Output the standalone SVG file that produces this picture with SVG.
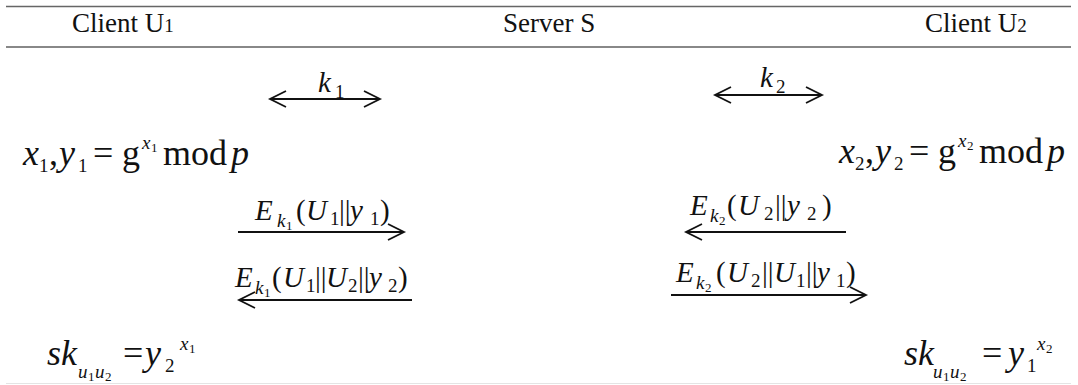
<svg xmlns="http://www.w3.org/2000/svg" width="1078" height="385" viewBox="0 0 1078 385" font-family="Liberation Serif, serif" fill="#111">
<style>
.conn path{stroke:#111;stroke-width:1.8;fill:none}
</style>
<rect width="1078" height="385" fill="#fff"/>
<g id="header" font-size="27">
<line x1="6" y1="6.5" x2="1071" y2="6.5" stroke="#666" stroke-width="1.6"/>
<line x1="6" y1="47" x2="1071" y2="47" stroke="#888" stroke-width="1.8"/>
<line x1="6" y1="383.5" x2="1071" y2="383.5" stroke="#e4e4e4" stroke-width="1"/>
<text x="72" y="32">Client U<tspan font-size="19">1</tspan></text>
<text x="503" y="32">Server S</text>
<text x="925" y="32">Client U<tspan font-size="19">2</tspan></text>
</g>
<g id="key1">
<text x="318" y="92" font-size="29" font-style="italic">k</text><text x="335" y="98" font-size="19">1</text>
</g>
<g id="key2">
<text x="760" y="87" font-size="29" font-style="italic">k</text><text x="776" y="93" font-size="19">2</text>
</g>
<g id="u1-gen" font-size="36">
<text><tspan font-style="italic" x="23" y="165">x</tspan><tspan font-size="19" x="39" y="172">1</tspan><tspan x="49" y="165">,</tspan><tspan font-style="italic" x="59" y="165">y</tspan><tspan font-size="19" x="78" y="172">1</tspan><tspan x="93" y="165">=</tspan><tspan x="122" y="165">g</tspan><tspan font-size="19" font-style="italic" x="142" y="149">x</tspan><tspan font-size="13" x="151" y="152">1</tspan><tspan x="163" y="165">mod</tspan><tspan font-style="italic" x="231" y="165">p</tspan></text>
</g>
<g id="u2-gen" font-size="36">
<text><tspan font-style="italic" x="839" y="163">x</tspan><tspan font-size="19" x="855" y="170">2</tspan><tspan x="865" y="163">,</tspan><tspan font-style="italic" x="875" y="163">y</tspan><tspan font-size="19" x="894" y="170">2</tspan><tspan x="909" y="163">=</tspan><tspan x="938" y="163">g</tspan><tspan font-size="19" font-style="italic" x="958" y="147">x</tspan><tspan font-size="13" x="967" y="150">2</tspan><tspan x="979" y="163">mod</tspan><tspan font-style="italic" x="1047" y="163">p</tspan></text>
</g>
<g id="msg1" font-size="29">
<text><tspan font-style="italic" x="255" y="220">E</tspan><tspan font-size="19" font-style="italic" x="277" y="227">k</tspan><tspan font-size="13" x="286" y="230">1</tspan><tspan x="296" y="220">(</tspan><tspan font-style="italic" x="306" y="220">U</tspan><tspan font-size="19" x="330" y="225">1</tspan><tspan x="339" y="220">||</tspan><tspan font-style="italic" x="350" y="220">y</tspan><tspan font-size="19" x="370" y="225">1</tspan><tspan x="380" y="220">)</tspan></text>
</g>
<g id="msg2" font-size="29">
<text><tspan font-style="italic" x="690" y="215">E</tspan><tspan font-size="19" font-style="italic" x="710" y="222">k</tspan><tspan font-size="13" x="719" y="225">2</tspan><tspan x="727" y="215">(</tspan><tspan font-style="italic" x="738" y="215">U</tspan><tspan font-size="19" x="764" y="220">2</tspan><tspan x="775" y="215">||</tspan><tspan font-style="italic" x="787" y="215">y</tspan><tspan font-size="19" x="807" y="220">2</tspan><tspan x="822" y="215">)</tspan></text>
</g>
<g id="msg3" font-size="29">
<text><tspan font-style="italic" x="235" y="287">E</tspan><tspan font-size="19" font-style="italic" x="255" y="294">k</tspan><tspan font-size="13" x="264" y="297">1</tspan><tspan x="272" y="287">(</tspan><tspan font-style="italic" x="283" y="287">U</tspan><tspan font-size="19" x="306" y="292">1</tspan><tspan x="315" y="287">||</tspan><tspan font-style="italic" x="326" y="287">U</tspan><tspan font-size="19" x="348" y="292">2</tspan><tspan x="358" y="287">||</tspan><tspan font-style="italic" x="369" y="287">y</tspan><tspan font-size="19" x="388" y="292">2</tspan><tspan x="398" y="287">)</tspan></text>
</g>
<g id="msg4" font-size="29">
<text><tspan font-style="italic" x="676" y="282">E</tspan><tspan font-size="19" font-style="italic" x="696" y="289">k</tspan><tspan font-size="13" x="705" y="292">2</tspan><tspan x="716" y="282">(</tspan><tspan font-style="italic" x="727" y="282">U</tspan><tspan font-size="19" x="751" y="287">2</tspan><tspan x="762" y="282">||</tspan><tspan font-style="italic" x="774" y="282">U</tspan><tspan font-size="19" x="796" y="287">1</tspan><tspan x="806" y="282">||</tspan><tspan font-style="italic" x="817" y="282">y</tspan><tspan font-size="19" x="836" y="287">1</tspan><tspan x="846" y="282">)</tspan></text>
</g>
<g id="u1-key" font-size="36">
<text><tspan font-style="italic" x="47" y="365">sk</tspan><tspan font-size="19" font-style="italic" x="78" y="378">u</tspan><tspan font-size="13" x="88" y="381">1</tspan><tspan font-size="19" font-style="italic" x="95" y="378">u</tspan><tspan font-size="13" x="105" y="381">2</tspan><tspan x="123" y="365">=</tspan><tspan font-style="italic" x="145" y="365">y</tspan><tspan font-size="19" x="165" y="372">2</tspan><tspan font-size="19" font-style="italic" x="180" y="350">x</tspan><tspan font-size="13" x="189" y="353">1</tspan></text>
</g>
<g id="u2-key" font-size="36">
<text><tspan font-style="italic" x="904" y="365">sk</tspan><tspan font-size="19" font-style="italic" x="933" y="378">u</tspan><tspan font-size="13" x="943" y="381">1</tspan><tspan font-size="19" font-style="italic" x="950" y="378">u</tspan><tspan font-size="13" x="960" y="381">2</tspan><tspan x="982" y="365">=</tspan><tspan font-style="italic" x="1008" y="365">y</tspan><tspan font-size="19" x="1027" y="372">1</tspan><tspan font-size="19" font-style="italic" x="1037" y="350">x</tspan><tspan font-size="13" x="1046" y="353">2</tspan></text>
</g>
<g id="connectors" class="conn">
<path d="M270 99H380M286 91L270 99L286 107M364 91L380 99L364 107"/>
<path d="M715 95H822M731 87L715 95L731 103M806 87L822 95L806 103"/>
<path d="M238 232H404M388 224L404 232L388 240"/>
<path d="M686 232H846M702 224L686 232L702 240"/>
<path d="M239 300H412M255 292L239 300L255 308"/>
<path d="M671 295H866M850 287L866 295L850 303"/>
</g>
</svg>
